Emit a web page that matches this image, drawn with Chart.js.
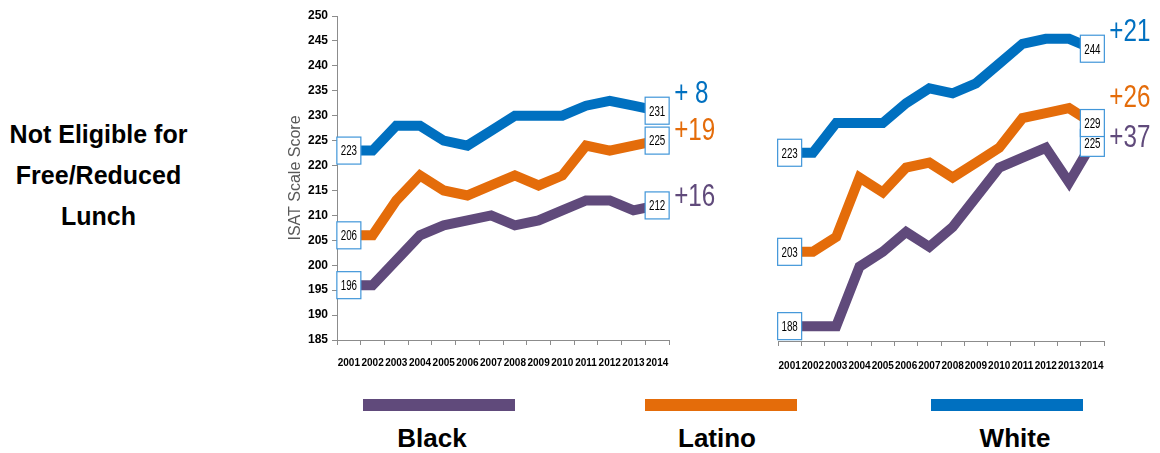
<!DOCTYPE html>
<html>
<head>
<meta charset="utf-8">
<script src="https://cdn.jsdelivr.net/npm/chart.js@4.4.1/dist/chart.umd.min.js"></script>
<style>
  body { margin: 0; width: 1160px; height: 453px; background: #fff; position: relative; overflow: hidden;
         font-family: 'Liberation Sans', Arial, sans-serif; }
  .panel { position: absolute; top: 0; height: 385px; }
  #side { position: absolute; left: 0; top: 114px; width: 197px; text-align: center;
          font-weight: bold; font-size: 25px; line-height: 41px; color: #000; }
  .key { position: absolute; top: 399px; width: 152px; height: 12px; }
  .keyText { position: absolute; top: 423px; width: 200px; text-align: center; font-weight: bold;
             font-size: 26px; line-height: 30px; color: #000; }
</style>
</head>
<body>
<div id="side">Not Eligible for<br>Free/Reduced<br>Lunch</div>

<div class="panel" style="left:270px; width:460px;"><canvas id="leftChart"></canvas></div>
<div class="panel" style="left:700px; width:460px;"><canvas id="rightChart"></canvas></div>

<div class="key" style="left:363px; background:#604A7B;"></div>
<div class="key" style="left:645px; background:#E46C0A;"></div>
<div class="key" style="left:931px; background:#0070C0;"></div>
<div class="keyText" style="left:332px;">Black</div>
<div class="keyText" style="left:617px;">Latino</div>
<div class="keyText" style="left:915px;">White</div>

<script>
const years = ['2001', '2002', '2003', '2004', '2005', '2006', '2007', '2008', '2009', '2010', '2011', '2012', '2013', '2014'];
const groups = ['Black', 'Latino', 'White'];

// left panel
const leftBlack  = [196, 196, 201, 206, 208, 209, 210, 208, 209, 211, 213, 213, 211, 212];
const leftLatino = [206, 206, 213, 218, 215, 214, 216, 218, 216, 218, 224, 223, 224, 225];
const leftWhite  = [223, 223, 228, 228, 225, 224, 227, 230, 230, 230, 232, 233, 232, 231];
const leftGains  = ['+16', '+19', '+ 8'];

// right panel
const rightBlack  = [188, 188, 188, 200, 203, 207, 204, 208, 214, 220, 222, 224, 217, 225];
const rightLatino = [203, 203, 206, 218, 215, 220, 221, 218, 221, 224, 230, 231, 232, 229];
const rightWhite  = [223, 223, 229, 229, 229, 233, 236, 235, 237, 241, 245, 246, 246, 244];
const rightGains  = ['+37', '+26', '+21'];

const colors = ['#604A7B', '#E46C0A', '#0070C0'];
const sans = "'Liberation Sans', Arial, sans-serif";

// squeezed text, the original uses a condensed face
function narrowText(ctx, text, x, y, squeeze) {
  ctx.save();
  ctx.translate(x, y);
  ctx.scale(squeeze, 1);
  ctx.fillText(text, 0, 0);
  ctx.restore();
}

// value boxes at first/last point + the gain text after the last box
const valueBoxes = {
  id: 'valueBoxes',
  afterDatasetsDraw(chart, args, opts) {
    const ctx = chart.ctx;
    const w = 24, h = 27;
    ctx.save();
    chart.data.datasets.forEach((ds, i) => {
      const pts = chart.getDatasetMeta(i).data;
      const last = pts.length - 1;
      [0, last].forEach(idx => {
        const p = pts[idx];
        ctx.fillStyle = '#fff';
        ctx.fillRect(p.x - w / 2, p.y - h / 2, w, h);
        ctx.strokeStyle = '#4196D9';
        ctx.lineWidth = 1.2;
        ctx.strokeRect(p.x - w / 2, p.y - h / 2, w, h);
        ctx.fillStyle = '#000';
        ctx.font = '14px ' + sans;
        ctx.textAlign = 'center';
        ctx.textBaseline = 'middle';
        narrowText(ctx, String(ds.data[idx]), p.x, p.y + 1, 0.7);
      });
      const p = pts[last];
      ctx.fillStyle = ds.borderColor;
      ctx.font = '31px ' + sans;
      ctx.textAlign = 'left';
      ctx.textBaseline = 'middle';
      narrowText(ctx, opts.gains[i], p.x + w / 2 + 5, p.y + opts.dy[i], 0.78);
    });
    ctx.restore();
  }
};

function makeChart(id, values, gains, dy, showY, padding) {
  return new Chart(document.getElementById(id), {
    type: 'line',
    data: {
      labels: years,
      datasets: values.map((v, i) => ({
        label: groups[i],
        data: v,
        borderColor: colors[i],
        backgroundColor: colors[i],
        borderWidth: 10,
        pointRadius: 0,
        tension: 0,
        fill: false
      }))
    },
    options: {
      responsive: true,
      maintainAspectRatio: false,
      animation: false,
      layout: { padding: padding },
      plugins: {
        legend: { display: false },
        tooltip: { enabled: false },
        valueBoxes: { gains: gains, dy: dy }
      },
      scales: {
        x: {
          offset: true,
          grid: { offset: true, drawOnChartArea: false, tickLength: 5, color: '#8c8c8c' },
          border: { color: '#8c8c8c' },
          ticks: { color: '#000', font: { family: sans, size: 10, weight: 'bold' },
                   padding: showY ? 12 : 14, maxRotation: 0, autoSkip: false },
          afterFit(s) { s.height = 385 - (showY ? 340 : 341); }
        },
        y: {
          display: showY,
          min: 185,
          max: 250,
          ticks: { stepSize: 5, color: '#000', font: { family: sans, size: 12, weight: 'bold' }, padding: 4 },
          grid: { drawOnChartArea: false, tickLength: 5, color: '#8c8c8c' },
          border: { color: '#8c8c8c' },
          title: { display: true, text: 'ISAT Scale Score', color: '#595959',
                   font: { family: sans, size: 16 }, padding: { top: 4, bottom: 0 } },
          afterFit(s) { s.width = 55; }
        }
      }
    },
    plugins: [valueBoxes]
  });
}

makeChart('leftChart', [leftBlack, leftLatino, leftWhite], leftGains, [-8, -9, -16], true,
          { left: 12, top: 16, right: 61, bottom: 0 });
makeChart('rightChart', [rightBlack, rightLatino, rightWhite], rightGains, [-4, -25, -16], false,
          { left: 23, top: 19, right: 56, bottom: 0 });
</script>
</body>
</html>
